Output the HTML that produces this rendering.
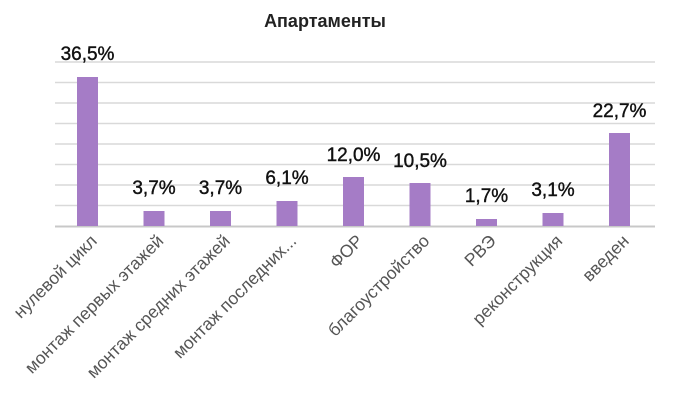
<!DOCTYPE html>
<html><head><meta charset="utf-8"><style>body{margin:0;background:#fff}svg{display:block}</style></head><body>
<svg width="700" height="409" xmlns="http://www.w3.org/2000/svg" font-family="Liberation Sans, DejaVu Sans, sans-serif">
<text x="325" y="27" text-anchor="middle" font-size="18" font-weight="bold" fill="#222">Апартаменты</text>
<g stroke="#d9d9d9" stroke-width="1.5">
<line x1="55" x2="655" y1="62" y2="62"/><line x1="55" x2="655" y1="82.5" y2="82.5"/><line x1="55" x2="655" y1="103" y2="103"/><line x1="55" x2="655" y1="123.5" y2="123.5"/><line x1="55" x2="655" y1="144" y2="144"/><line x1="55" x2="655" y1="164.5" y2="164.5"/><line x1="55" x2="655" y1="185" y2="185"/><line x1="55" x2="655" y1="205.5" y2="205.5"/>
</g>
<line x1="55" x2="655" y1="226.5" y2="226.5" stroke="#c8c8c8" stroke-width="2"/>
<g fill="#a57cc6">
<rect x="77" y="77" width="21" height="149"/>
<rect x="143.5" y="211" width="21" height="15"/>
<rect x="210" y="211" width="21" height="15"/>
<rect x="276.5" y="201" width="21" height="25"/>
<rect x="343" y="177" width="21" height="49"/>
<rect x="409.5" y="183" width="21" height="43"/>
<rect x="476" y="219" width="21" height="7"/>
<rect x="542.5" y="213" width="21" height="13"/>
<rect x="609" y="133" width="21" height="93"/>
</g>
<g font-size="19" fill="#111" text-anchor="middle" stroke="#111" stroke-width="0.4">
<text x="87.5" y="60">36,5%</text>
<text x="154" y="194">3,7%</text>
<text x="220.5" y="194">3,7%</text>
<text x="287" y="184">6,1%</text>
<text x="353.5" y="161">12,0%</text>
<text x="420" y="167">10,5%</text>
<text x="486.5" y="202">1,7%</text>
<text x="553" y="196">3,1%</text>
<text x="619.5" y="117">22,7%</text>
</g>
<g font-size="17.5" fill="#555" text-anchor="end">
<text transform="translate(98,242) rotate(-45)">нулевой цикл</text>
<text transform="translate(164.5,242) rotate(-45)">монтаж первых этажей</text>
<text transform="translate(231,242) rotate(-45)">монтаж средних этажей</text>
<text transform="translate(297.5,242) rotate(-45)">монтаж последних...</text>
<text transform="translate(364,242) rotate(-45)">ФОР</text>
<text transform="translate(430.5,242) rotate(-45)">благоустройство</text>
<text transform="translate(497,242) rotate(-45)">РВЭ</text>
<text transform="translate(563.5,242) rotate(-45)">реконструкция</text>
<text transform="translate(630,242) rotate(-45)">введен</text>
</g>
</svg>
</body></html>
